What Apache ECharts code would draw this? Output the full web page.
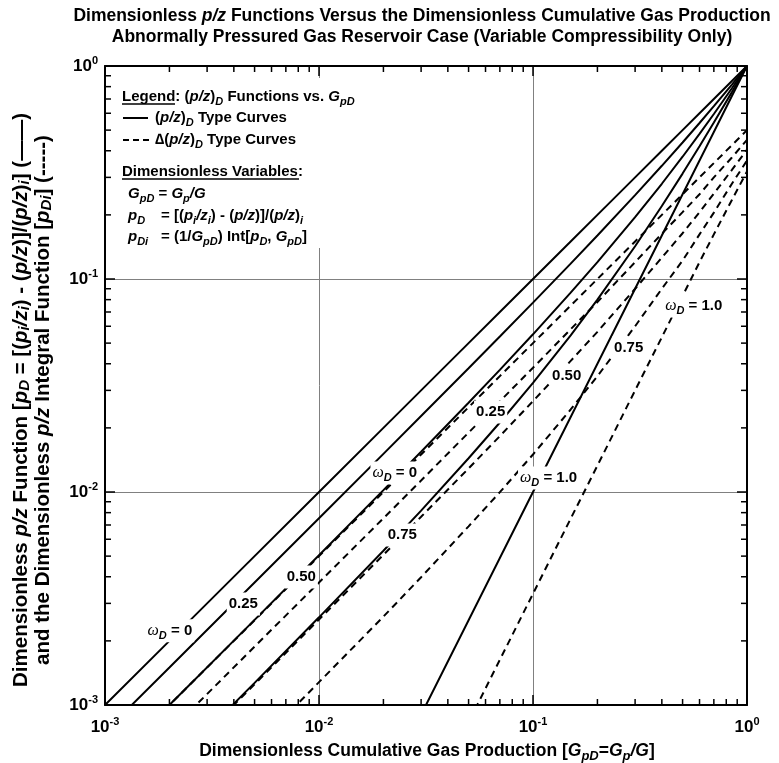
<!DOCTYPE html>
<html>
<head>
<meta charset="utf-8">
<title>Dimensionless p/z functions</title>
<script src="https://cdn.jsdelivr.net/npm/echarts@6/dist/echarts.min.js"></script>
<style>
  html, body { margin: 0; padding: 0; background: #fff; }
  #chart { width: 779px; height: 763px; }
</style>
</head>
<body>
<div id="chart"></div>
<script>
// dimensionless cumulative gas production, G_pD
const gpd = [0.001, 0.002, 0.005, 0.01, 0.02, 0.03, 0.05, 0.07, 0.1, 0.15, 0.2, 0.3, 0.4, 0.5, 0.6, 0.7, 0.85, 1];

// (p/z)_D type curves (solid), one per omega_D
const pD_w000 = [0.001, 0.002, 0.005, 0.01, 0.02, 0.03, 0.05, 0.07, 0.1, 0.15, 0.2, 0.3, 0.4, 0.5, 0.6, 0.7, 0.85, 1];
const pD_w025 = [0.00075, 0.0015, 0.00376, 0.00753, 0.0151, 0.02273, 0.0381, 0.0537, 0.0775, 0.1181, 0.16, 0.2475, 0.34, 0.4375, 0.54, 0.6475, 0.818, 1];
const pD_w050 = [0.0005, 0.001, 0.00251, 0.00505, 0.0102, 0.01545, 0.02625, 0.03745, 0.055, 0.08625, 0.12, 0.195, 0.28, 0.375, 0.48, 0.595, 0.786, 1];
const pD_w075 = [0.00025, 0.000503, 0.00127, 0.00258, 0.0053, 0.00818, 0.0144, 0.0212, 0.0325, 0.0544, 0.08, 0.1425, 0.22, 0.3125, 0.42, 0.5425, 0.754, 1];
const pD_w100 = [null, null, null, 0.0001, 0.0004, 0.0009, 0.0025, 0.0049, 0.01, 0.0225, 0.04, 0.09, 0.16, 0.25, 0.36, 0.49, 0.7225, 1];

// delta (p/z)_D type curves (dashed), integral function p_Di
const pDi_w000 = [0.0005, 0.001, 0.0025, 0.005, 0.01, 0.015, 0.025, 0.035, 0.05, 0.075, 0.1, 0.15, 0.2, 0.25, 0.3, 0.35, 0.425, 0.5];
const pDi_w025 = [0.000375, 0.00075, 0.00188, 0.00376, 0.00753, 0.01133, 0.019, 0.02666, 0.0383, 0.0581, 0.078, 0.12, 0.163, 0.206, 0.25, 0.30, 0.372, 0.45];
const pDi_w050 = [0.00025, 0.0005, 0.00125, 0.00252, 0.00507, 0.00765, 0.0129, 0.0183, 0.0267, 0.04125, 0.0565, 0.09, 0.126, 0.164, 0.206, 0.252, 0.325, 0.405];
const pDi_w075 = [0.000125, 0.00025, 0.00063, 0.00128, 0.0026, 0.00398, 0.0069, 0.00998, 0.015, 0.0244, 0.035, 0.06, 0.09, 0.122, 0.162, 0.205, 0.28, 0.36];
const pDi_w100 = [null, null, null, 0.000033, 0.000133, 0.0003, 0.00083, 0.00163, 0.00333, 0.0075, 0.0133, 0.03, 0.0533, 0.0833, 0.12, 0.162, 0.235, 0.32];

// curve labels (data coordinates)
const labelX = [0.00201, 0.00443, 0.00826, 0.0245, 0.0226, 0.0634, 0.1437, 0.280, 0.1183, 0.564];
const labelY = [0.00223, 0.00298, 0.00399, 0.00628, 0.01227, 0.02374, 0.03504, 0.0474, 0.01164, 0.0746];
const labelText = ['0', '0.25', '0.50', '0.75', '0', '0.25', '0.50', '0.75', '1.0', '1.0'];
const labelOmega = [true, false, false, false, true, false, false, false, true, true];

// axis ticks
const tickExps = [-3, -2, -1, 0];
const minorTickValues = [
  0.002, 0.003, 0.004, 0.005, 0.006, 0.007, 0.008, 0.009,
  0.02, 0.03, 0.04, 0.05, 0.06, 0.07, 0.08, 0.09,
  0.2, 0.3, 0.4, 0.5, 0.6, 0.7, 0.8, 0.9
];

const FONT = '"Liberation Sans", Arial, Helvetica, sans-serif';
const SERIF = '"Liberation Serif", "Times New Roman", serif';

function richSet(size, lh) {
  const base = { fontFamily: FONT, fontSize: size, fontWeight: 'bold', color: '#000', lineHeight: lh || size + 6 };
  const small = Math.round(size * 0.75);
  return {
    n: Object.assign({}, base),
    i: Object.assign({}, base, { fontStyle: 'italic' }),
    sb: Object.assign({}, base, { fontStyle: 'italic', fontSize: small, lineHeight: small, verticalAlign: 'bottom' }),
    sp: Object.assign({}, base, { fontSize: small, lineHeight: small, verticalAlign: 'top' }),
    w: Object.assign({}, base, { fontFamily: SERIF, fontWeight: 'normal', fontStyle: 'italic', fontSize: size + 1 })
  };
}

function pair(ys) {
  return gpd.map((g, i) => [g, ys[i]]);
}

function curve(name, ys, dashed) {
  return {
    name: name,
    type: 'line',
    data: pair(ys),
    symbol: 'none',
    clip: true,
    silent: true,
    z: 3,
    lineStyle: { color: '#000', width: 2, type: dashed ? [7, 5] : 'solid' }
  };
}

const powLabel = v => {
  const e = tickExps.find(t => Math.abs(Math.pow(10, t) - v) < v * 1e-6);
  return e === undefined ? '' : '{b|10}{e|' + e + '}';
};
const tickRich = {
  b: { fontFamily: FONT, fontSize: 17, fontWeight: 'bold', color: '#000', lineHeight: 22 },
  e: { fontFamily: FONT, fontSize: 11, fontWeight: 'bold', color: '#000', lineHeight: 11, verticalAlign: 'top' }
};

function logAxis(pos, showLabels) {
  return {
    type: 'log',
    logBase: 10,
    min: 0.001,
    max: 1,
    position: pos,
    axisLine: { show: true, onZero: false, lineStyle: { color: '#000', width: 2 } },
    axisTick: { show: true, inside: true, length: 10, lineStyle: { color: '#000', width: 1.5 } },
    minorTick: { show: false },
    splitLine: { show: showLabels, lineStyle: { color: '#808080', width: 1 } },
    axisLabel: showLabels ? {
      show: true,
      formatter: powLabel,
      rich: tickRich,
      margin: pos === 'bottom' ? 11 : 7,
      showMinLabel: true,
      showMaxLabel: true
    } : { show: false }
  };
}

// minor ticks at 2..9 of each decade, on all four sides of the frame
function renderMinorTick(params, api) {
  const v = api.value(0);
  const bottom = api.coord([v, 0.001]);
  const top = api.coord([v, 1]);
  const left = api.coord([0.001, v]);
  const right = api.coord([1, v]);
  const len = 6;
  const st = { stroke: '#000', lineWidth: 1.5 };
  return {
    type: 'group',
    children: [
      { type: 'line', shape: { x1: bottom[0], y1: bottom[1], x2: bottom[0], y2: bottom[1] - len }, style: st },
      { type: 'line', shape: { x1: top[0], y1: top[1], x2: top[0], y2: top[1] + len }, style: st },
      { type: 'line', shape: { x1: left[0], y1: left[1], x2: left[0] + len, y2: left[1] }, style: st },
      { type: 'line', shape: { x1: right[0], y1: right[1], x2: right[0] - len, y2: right[1] }, style: st }
    ]
  };
}

const chart = echarts.init(document.getElementById('chart'), null, { renderer: 'canvas' });

const r15 = richSet(15);
const r17 = richSet(17.5);
const r20 = richSet(20.5, 22);

const labelData = labelX.map((x, i) => ({
  value: [x, labelY[i]],
  txt: (labelOmega[i] ? '{w|ω}{sb|D}{n| = ' : '{n|') + labelText[i] + '}'
}));

const legendLeft = 122;
const varLeft = 128;
const eqLeft = 161;

chart.setOption({
  animation: false,
  backgroundColor: '#fff',
  grid: { left: 105, right: 32, top: 66, bottom: 58 },
  xAxis: [logAxis('bottom', true), logAxis('top', false)],
  yAxis: [logAxis('left', true), logAxis('right', false)],
  series: [
    {
      name: 'minor ticks',
      type: 'custom',
      data: minorTickValues.map(v => [v, v]),
      renderItem: renderMinorTick,
      clip: false,
      silent: true,
      z: 4
    },
    curve('pD 0', pD_w000, false),
    curve('pD 0.25', pD_w025, false),
    curve('pD 0.50', pD_w050, false),
    curve('pD 0.75', pD_w075, false),
    curve('pD 1.0', pD_w100, false),
    curve('pDi 0', pDi_w000, true),
    curve('pDi 0.25', pDi_w025, true),
    curve('pDi 0.50', pDi_w050, true),
    curve('pDi 0.75', pDi_w075, true),
    curve('pDi 1.0', pDi_w100, true),
    {
      name: 'labels',
      type: 'scatter',
      data: labelData,
      symbolSize: 0,
      itemStyle: { color: '#000' },
      silent: true,
      z: 10,
      label: {
        show: true,
        position: 'inside',
        formatter: p => p.data.txt,
        color: '#000',
        textBorderWidth: 0,
        opacity: 1,
        backgroundColor: '#ffffff',
        padding: [1, 2, 1, 2],
        rich: r15
      }
    }
  ],
  graphic: [
    // titles
    { type: 'text', x: 422, y: 16, silent: true, style: {
      text: '{n|Dimensionless }{i|p/z}{n| Functions Versus the Dimensionless Cumulative Gas Production}',
      rich: r17, align: 'center', verticalAlign: 'middle' } },
    { type: 'text', x: 422, y: 37, silent: true, style: {
      text: '{n|Abnormally Pressured Gas Reservoir Case (Variable Compressibility Only)}',
      rich: r17, align: 'center', verticalAlign: 'middle' } },
    // x axis name
    { type: 'text', x: 427, y: 751, silent: true, style: {
      text: '{n|Dimensionless Cumulative Gas Production [}{i|G}{sb|pD}{n|=}{i|G}{sb|p}{i|/G}{n|]}',
      rich: r17, align: 'center', verticalAlign: 'middle' } },
    // y axis name, two lines
    { type: 'text', x: 21, y: 400, rotation: Math.PI / 2, silent: true, style: {
      text: '{n|Dimensionless }{i|p/z}{n| Function [}{i|p}{sb|D}{n| = [(}{i|p}{sb|i}{i|/z}{sb|i}{n|) - (}{i|p/z}{n|)]/(}{i|p/z}{n|)}{sb|i}{n|] (——)}',
      rich: r20, align: 'center', verticalAlign: 'middle' } },
    { type: 'text', x: 43, y: 400, rotation: Math.PI / 2, silent: true, style: {
      text: '{n|and the Dimensionless }{i|p/z}{n| Integral Function [}{i|p}{sb|Di}{n|] (-----)}',
      rich: r20, align: 'center', verticalAlign: 'middle' } },
    // white patch hiding the gridline behind the legend
    { type: 'rect', z: 1, silent: true, shape: { x: 312, y: 78, width: 16, height: 170 },
      style: { fill: '#fff' } },
    // legend block
    { type: 'text', x: legendLeft, y: 97, z: 5, silent: true, style: {
      text: '{n|Legend: (}{i|p/z}{n|)}{sb|D}{n| Functions vs. }{i|G}{sb|pD}',
      rich: r15, align: 'left', verticalAlign: 'middle' } },
    { type: 'line', z: 5, silent: true, shape: { x1: legendLeft, y1: 104, x2: legendLeft + 53, y2: 104 },
      style: { stroke: '#000', lineWidth: 1.3 } },
    { type: 'line', z: 5, silent: true, shape: { x1: 123, y1: 118, x2: 148, y2: 118 },
      style: { stroke: '#000', lineWidth: 2 } },
    { type: 'text', x: 155, y: 118, z: 5, silent: true, style: {
      text: '{n|(}{i|p/z}{n|)}{sb|D}{n| Type Curves}',
      rich: r15, align: 'left', verticalAlign: 'middle' } },
    { type: 'line', z: 5, silent: true, shape: { x1: 123, y1: 140, x2: 149, y2: 140 },
      style: { stroke: '#000', lineWidth: 2, lineDash: [6, 4] } },
    { type: 'text', x: 155, y: 140, z: 5, silent: true, style: {
      text: '{n|∆(}{i|p/z}{n|)}{sb|D}{n| Type Curves}',
      rich: r15, align: 'left', verticalAlign: 'middle' } },
    { type: 'text', x: legendLeft, y: 172, z: 5, silent: true, style: {
      text: '{n|Dimensionless Variables:}',
      rich: r15, align: 'left', verticalAlign: 'middle' } },
    { type: 'line', z: 5, silent: true, shape: { x1: legendLeft, y1: 179, x2: legendLeft + 177, y2: 179 },
      style: { stroke: '#000', lineWidth: 1.3 } },
    { type: 'text', x: varLeft, y: 194, z: 5, silent: true, style: {
      text: '{i|G}{sb|pD}{n| = }{i|G}{sb|p}{i|/G}',
      rich: r15, align: 'left', verticalAlign: 'middle' } },
    { type: 'text', x: varLeft, y: 216, z: 5, silent: true, style: {
      text: '{i|p}{sb|D}',
      rich: r15, align: 'left', verticalAlign: 'middle' } },
    { type: 'text', x: eqLeft, y: 216, z: 5, silent: true, style: {
      text: '{n|= [(}{i|p}{sb|i}{i|/z}{sb|i}{n|) - (}{i|p/z}{n|)]/(}{i|p/z}{n|)}{sb|i}',
      rich: r15, align: 'left', verticalAlign: 'middle' } },
    { type: 'text', x: varLeft, y: 237, z: 5, silent: true, style: {
      text: '{i|p}{sb|Di}',
      rich: r15, align: 'left', verticalAlign: 'middle' } },
    { type: 'text', x: eqLeft, y: 237, z: 5, silent: true, style: {
      text: '{n|= (1/}{i|G}{sb|pD}{n|) Int[}{i|p}{sb|D}{n|, }{i|G}{sb|pD}{n|]}',
      rich: r15, align: 'left', verticalAlign: 'middle' } }
  ]
});
</script>
</body>
</html>
